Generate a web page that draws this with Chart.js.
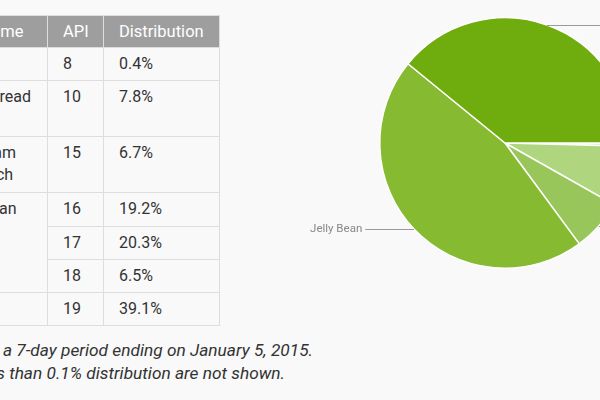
<!DOCTYPE html>
<html>
<head>
<meta charset="utf-8">
<script src="https://cdn.jsdelivr.net/npm/chart.js@4"></script>
<style>
  html, body { margin: 0; padding: 0; }
  body { width: 600px; height: 400px; overflow: hidden; position: relative; background: #f9f9f9; font-family: Roboto, "Noto Sans", sans-serif; color: #333; }
  #dist { position: absolute; left: -72px; top: 15px; border-collapse: collapse; font-size: 16px; }
  #dist th { background: #9e9e9e; color: #fff; font-weight: normal; font-size: 16.5px; text-align: left; padding: 0 0 0 15px; height: 31px; border: 1px solid #ddd; }
  #dist td { vertical-align: top; padding: 5px 0 0 15px; line-height: 22px; border: 1px solid #ddd; box-sizing: border-box; }
  .note { position: absolute; font-style: italic; font-size: 17.3px; white-space: nowrap; color: #333; }
  #pie { position: absolute; left: 270px; top: -2px; }
</style>
</head>
<body>
<table id="dist">
  <colgroup><col style="width:119px"><col style="width:56px"><col style="width:116px"></colgroup>
  <thead><tr><th>Codename</th><th>API</th><th>Distribution</th></tr></thead>
  <tbody></tbody>
</table>
<div class="note" style="right:287px; top:340px;">Data collected during a 7-day period ending on January 5, 2015.</div>
<div class="note" style="right:315px; top:363px;">Any versions with less than 0.1% distribution are not shown.</div>
<canvas id="pie" width="470" height="290"></canvas>
<script>
// table rows
const codenames = ["Froyo", "Gingerbread", "Ice Cream<br>Sandwich", "Jelly Bean", "", "", "KitKat"];
const codeSpan = [1, 1, 1, 3, 0, 0, 1];
const apiLevels = [8, 10, 15, 16, 17, 18, 19];
const distribution = ["0.4%", "7.8%", "6.7%", "19.2%", "20.3%", "6.5%", "39.1%"];
const rowHeights = [33, 56, 56, 34, 33, 33, 33];

// pie slices
const versions = ["Froyo", "Gingerbread", "Ice Cream Sandwich", "Jelly Bean", "KitKat"];
const share = [0.4, 7.8, 6.7, 46.0, 39.1];
const sliceColors = ["#c4e19a", "#afd57f", "#99c65a", "#86ba31", "#6fac0d"];

const tbody = document.querySelector("#dist tbody");
apiLevels.forEach((api, i) => {
  const tr = document.createElement("tr");
  tr.style.height = rowHeights[i] + "px";
  if (codeSpan[i] > 0) {
    const td = document.createElement("td");
    td.rowSpan = codeSpan[i];
    td.innerHTML = codenames[i];
    tr.appendChild(td);
  }
  const a = document.createElement("td");
  a.textContent = api;
  const d = document.createElement("td");
  d.textContent = distribution[i];
  tr.appendChild(a);
  tr.appendChild(d);
  tbody.appendChild(tr);
});

// leader lines + labels beside each slice
const sliceLabels = {
  id: "sliceLabels",
  afterDraw(chart) {
    const ctx = chart.ctx;
    const arcs = chart.getDatasetMeta(0).data;
    ctx.save();
    ctx.strokeStyle = "#9a9a9a";
    ctx.lineWidth = 1;
    ctx.fillStyle = "#888";
    ctx.font = "11.5px Roboto, sans-serif";
    ctx.textBaseline = "middle";
    arcs.forEach((arc, i) => {
      const mid = (arc.startAngle + arc.endAngle) / 2;
      const x = arc.x + Math.cos(mid) * arc.outerRadius;
      const y = arc.y + Math.sin(mid) * arc.outerRadius;
      const left = Math.cos(mid) < 0;
      const x2 = left ? x - 49 : x + 80;
      ctx.beginPath();
      ctx.moveTo(Math.round(x), Math.round(y) + 0.5);
      ctx.lineTo(x2, Math.round(y) + 0.5);
      ctx.stroke();
      ctx.textAlign = left ? "right" : "left";
      ctx.fillText(versions[i], left ? x2 - 3 : x2 + 3, y);
    });
    ctx.restore();
  }
};

new Chart(document.getElementById("pie"), {
  type: "pie",
  data: {
    labels: versions,
    datasets: [{
      data: share,
      backgroundColor: sliceColors,
      borderColor: "#ffffff",
      borderWidth: 1.5,
    }],
  },
  options: {
    responsive: false,
    animation: false,
    rotation: 90,
    layout: { padding: { top: 19, bottom: 19 } },
    plugins: {
      legend: { display: false },
      tooltip: { enabled: false },
    },
  },
  plugins: [sliceLabels],
});
</script>
</body>
</html>
